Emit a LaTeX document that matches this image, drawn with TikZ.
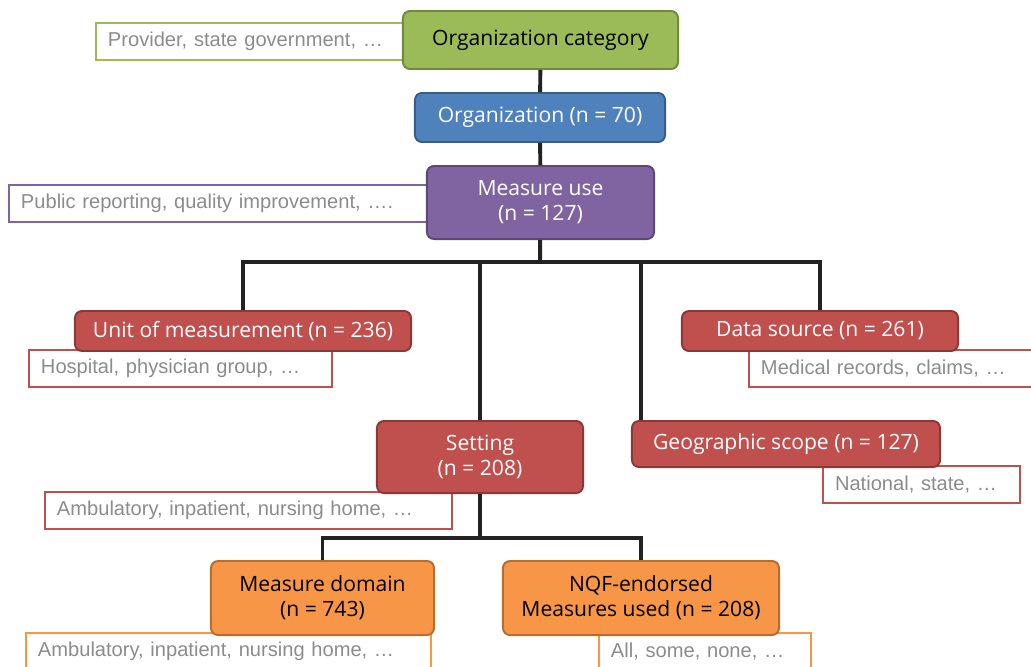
\documentclass[tikz,border=0pt]{standalone}
\usepackage{fontspec}
\setmainfont{Open Sans}
\newfontfamily\notefont{Liberation Sans}
\usetikzlibrary{positioning}

\definecolor{catfill}{HTML}{9BBB59}
\definecolor{catdraw}{HTML}{71893F}
\definecolor{orgfill}{HTML}{4F81BD}
\definecolor{orgdraw}{HTML}{385D8A}
\definecolor{usefill}{HTML}{8064A2}
\definecolor{usedraw}{HTML}{5C4776}
\definecolor{dimfill}{HTML}{C0504D}
\definecolor{dimdraw}{HTML}{8C3836}
\definecolor{msrfill}{HTML}{F79646}
\definecolor{msrdraw}{HTML}{B66D31}
\definecolor{notegray}{RGB}{140,140,140}
\definecolor{linkblack}{HTML}{222222}

\begin{document}
\begin{tikzpicture}[x=0.025cm,y=-0.025cm]

		\tikzstyle{box}=[draw, rounded corners=5pt, line width=1.4pt, align=center, inner sep=0pt, font=\fontsize{15}{17.8}\selectfont]
		\tikzstyle{catbox}=[box, fill=catfill, draw=catdraw, text=black]
		\tikzstyle{orgbox}=[box, fill=orgfill, draw=orgdraw, text=white]
		\tikzstyle{usebox}=[box, fill=usefill, draw=usedraw, text=white]
		\tikzstyle{dimbox}=[box, fill=dimfill, draw=dimdraw, text=white]
		\tikzstyle{msrbox}=[box, fill=msrfill, draw=msrdraw, text=black]
		\tikzstyle{note}=[draw, fill=white, line width=1.4pt, anchor=west, align=left, inner xsep=0.3cm, inner ysep=0pt, minimum height=0.925cm, text=notegray, font=\notefont\fontsize{14.3}{16}\selectfont]
		\tikzstyle{link}=[line width=2.8pt, draw=linkblack]

		\clip (0,0) rectangle (1031,666);

		% example lists behind the boxes
		\node[note, draw=catfill, text width=7.525cm] (catnote) at (95,41.5) {Provider, state government, …};
		\node[note, draw=usefill, text width=10.2cm] (usenote) at (8,203.5) {Public reporting, quality improvement, ….};
		\node[note, draw=dimfill, text width=6.975cm] (unitnote) at (28,368.5) {Hospital, physician group, …};
		\node[note, draw=dimfill, text width=6.7cm] (datanote) at (748,368.5) {Medical records, claims, …};
		\node[note, draw=dimfill, text width=9.575cm] (settingnote) at (44,510.5) {Ambulatory, inpatient, nursing home, …};
		\node[note, draw=dimfill, text width=4.325cm] (geonote) at (822,484.5) {National, state, …};
		\node[note, draw=msrfill, text width=9.525cm] (domainnote) at (25,651.5) {Ambulatory, inpatient, nursing home, …};
		\node[note, draw=msrfill, text width=4.7cm] (nqfnote) at (598,651.5) {All, some, none, …};

		% levels
		\node[catbox, minimum width=6.875cm, minimum height=1.45cm] (orgcat) at (540.5,40) {Organization category};
		\node[orgbox, minimum width=6.25cm, minimum height=1.225cm] (org) at (540,117.5) {Organization (n = 70)};
		\node[usebox, minimum width=5.675cm, minimum height=1.825cm] (use) at (540.5,202.5) {Measure use\\(n = 127)};

		\node[dimbox, minimum width=8.4cm, minimum height=1cm] (unit) at (243,331) {Unit of measurement (n = 236)};
		\node[dimbox, minimum width=6.9cm, minimum height=1cm] (data) at (820,331) {Data source (n = 261)};
		\node[dimbox, minimum width=5.15cm, minimum height=1.8cm] (setting) at (480,457) {Setting\\(n = 208)};
		\node[dimbox, minimum width=7.7cm, minimum height=1.15cm] (geo) at (786,444) {Geographic scope (n = 127)};

		\node[msrbox, minimum width=5.575cm, minimum height=1.85cm] (domain) at (322.5,598) {Measure domain\\(n = 743)};
		\node[msrbox, minimum width=6.9cm, minimum height=1.85cm] (nqf) at (641,598) {NQF-endorsed\\Measures used (n = 208)};

		% connectors
		\coordinate (bus) at (540,262);
		\coordinate (lowbus) at (480,538);
		\coordinate (geotop) at ([xshift=0.25cm]geo.north west);

		\draw[link] (orgcat) -- (org);
		\draw[link] (org) -- (use);
		\draw[link] (use) -- (bus);
		\draw[link] (unit.north) -- (unit.north |- bus) -- (data.north |- bus) -- (data.north);
		\draw[link] (setting.north) -- (setting.north |- bus);
		\draw[link] (geotop) -- (geotop |- bus);

		\draw[link] (setting) -- (lowbus);
		\draw[link] (domain.north) -- (domain.north |- lowbus) -- (nqf.north |- lowbus) -- (nqf.north);

\end{tikzpicture}
\end{document}
